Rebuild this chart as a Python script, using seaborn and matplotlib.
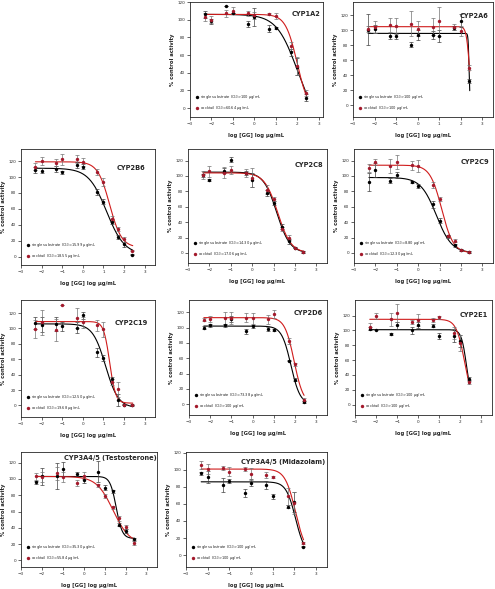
import numpy as np
import pandas as pd
import matplotlib.pyplot as plt
import seaborn as sns

N = np.nan
# log concentration of GG (log ug/mL)
X = [-2.3, -2, -1.3, -1, -0.3, 0, 0.7, 1, 1.4, 1.7, 2, 2.4]

# ---- data (single substrate / cocktail, mean and SD) ----
cyp1a2_single = [106, 98, 115, 108, 95, 103, 90, 91, N, 63, 47, 12]
cyp1a2_single_sd = [4, 3, 0, 0, 3, 10, 4, 1, N, 4, 10, 4]
cyp1a2_cocktail = [103, 100, 107, 110, 107, 105, 106, 104, N, 70, 48, 17]
cyp1a2_cocktail_sd = [5, 4, 4, 4, 3, 4, 1, 3, N, 5, 10, 3]

cyp2a6_single = [101, 102, 92, 93, 81, 94, 94, 93, N, 103, 113, 32]
cyp2a6_single_sd = [21, 5, 4, 4, 3, 7, 5, 8, N, 3, 9, 3]
cyp2a6_cocktail = [102, 104, 107, 106, 109, 102, 105, 112, N, 104, 99, 50]
cyp2a6_cocktail_sd = [4, 8, 9, 11, 17, 10, 11, 19, N, 4, 7, 3]

cyp2b6_single = [109, 108, 110, 106, 115, 113, 81, 69, 44, 25, 16, 3]
cyp2b6_single_sd = [4, 3, 4, 2, 4, 3, 4, 3, 3, 2, 3, 1]
cyp2b6_cocktail = [113, 120, 118, 122, 122, 119, 106, 94, 48, 35, 22, 8]
cyp2b6_cocktail_sd = [4, 5, 4, 7, 5, 5, 4, 5, 3, 3, 3, 1]

cyp2c8_single = [101, 95, 107, 121, 104, 95, 78, 65, 34, 15, 7, 1]
cyp2c8_single_sd = [2, 1, 3, 3, 3, 9, 4, 3, 3, 3, 1, 1]
cyp2c8_cocktail = [101, 106, 104, 108, 104, 98, 82, 70, 31, 20, 7, 1]
cyp2c8_cocktail_sd = [5, 7, 7, 5, 5, 12, 6, 3, 3, 3, 1, 1]

cyp2c9_single = [92, 108, 94, 101, 92, 87, 63, 42, 22, 10, 4, 1]
cyp2c9_single_sd = [12, 9, 3, 4, 1, 2, 4, 3, 2, 2, 1, 1]
cyp2c9_cocktail = [110, 118, 113, 118, 114, 113, 88, 70, 22, 16, 4, 1]
cyp2c9_cocktail_sd = [5, 4, 9, 9, 6, 8, 4, 3, 2, 2, 1, 1]

cyp2c19_single = [107, 105, 106, 103, 101, 117, 69, 62, 34, 7, 1, 0]
cyp2c19_single_sd = [8, 10, 9, 6, 7, 5, 6, 4, 3, 8, 1, 1]
cyp2c19_cocktail = [99, 108, 98, 130, 114, 108, 104, 99, 30, 21, 1, 1]
cyp2c19_cocktail_sd = [12, 16, 14, 0, 13, 7, 7, 10, 4, 10, 1, 1]

cyp2d6_single = [100, 103, 103, 111, 95, 102, 98, 97, N, 57, 32, 3]
cyp2d6_single_sd = [2, 2, 2, 4, 3, 2, 3, 1, N, 1, 2, 1]
cyp2d6_cocktail = [110, 111, 113, 113, 113, 112, 111, 118, N, 83, 52, 6]
cyp2d6_cocktail_sd = [2, 4, 8, 8, 6, 7, 6, 5, N, 4, 2, 2]

cyp2e1_single = [102, 101, 95, 107, 100, 107, 106, 92, N, 93, 86, 35]
cyp2e1_single_sd = [2, 1, 1, 5, 5, 4, 2, 4, N, 9, 8, 2]
cyp2e1_cocktail = [105, 120, 115, 123, 111, 114, 114, 118, N, 96, 83, 30]
cyp2e1_cocktail_sd = [5, 4, 9, 12, 3, 8, 3, 2, N, 8, 11, 2]

cyp3a4t_single = [96, 103, 104, 112, 106, 99, 109, 89, 85, 44, 36, 26]
cyp3a4t_single_sd = [2, 10, 16, 9, 3, 4, 13, 3, 2, 2, 2, 2]
cyp3a4t_cocktail = [103, 102, 107, 102, 95, 104, 92, 79, 65, 52, 41, 22]
cyp3a4t_cocktail_sd = [4, 6, 8, 6, 4, 4, 2, 3, 2, 3, 3, 3]

cyp3a4m_single = [96, 92, 82, 87, 73, 85, 82, 69, N, 57, 62, 10]
cyp3a4m_single_sd = [2, 7, 8, 2, 5, 4, 5, 3, N, 2, 12, 1]
cyp3a4m_cocktail = [106, 101, 102, 98, 101, 95, 94, 92, N, 69, 61, 14]
cyp3a4m_cocktail_sd = [5, 6, 2, 5, 2, 7, 4, 1, N, 10, 13, 1]

# fitted 4PL curves: (top, bottom, logIC50, hill)
fits_single = [(106, -20, 2.0, 0.9), (96, 0, 2.39, 20), (111, 3, 1.15, 1.0),
               (105, 0, 1.15, 1.4), (98, 0, 0.85, 1.2), (106, -3, 1.1, 1.4),
               (102, 0, 1.8, 2.0), (101, 0, 2.3, 3.5), (103, 27, 1.55, 3.0),
               (86, 0, 2.05, 2.0)]
fits_cocktail = [(106, -5, 2.0, 1.6), (105, 0, 2.4, 6), (119, 12, 1.3, 1.5),
                 (104, 0, 1.2, 1.4), (114, 0, 1.1, 1.6), (109, 3, 1.3, 3.0),
                 (113, 0, 1.95, 2.0), (115, 0, 2.2, 2.2), (103, 20, 1.4, 1.1),
                 (101, 0, 2.05, 1.8)]

titles = ["CYP1A2", "CYP2A6", "CYP2B6", "CYP2C8", "CYP2C9", "CYP2C19",
          "CYP2D6", "CYP2E1", "CYP3A4/5 (Testosterone)", "CYP3A4/5 (Midazolam)"]
ic50_single = [">100", ">100", "=15.99", "=14.30", "=8.80", "=12.50",
               "=73.38", ">100", "=35.30", ">100"]
ic50_cocktail = ["=60.64", ">100", "=18.55", "=17.06", "=12.30", "=19.68",
                 ">100", ">100", "=55.84", ">100"]

singles = [cyp1a2_single, cyp2a6_single, cyp2b6_single, cyp2c8_single, cyp2c9_single,
           cyp2c19_single, cyp2d6_single, cyp2e1_single, cyp3a4t_single, cyp3a4m_single]
singles_sd = [cyp1a2_single_sd, cyp2a6_single_sd, cyp2b6_single_sd, cyp2c8_single_sd,
              cyp2c9_single_sd, cyp2c19_single_sd, cyp2d6_single_sd, cyp2e1_single_sd,
              cyp3a4t_single_sd, cyp3a4m_single_sd]
cocktails = [cyp1a2_cocktail, cyp2a6_cocktail, cyp2b6_cocktail, cyp2c8_cocktail,
             cyp2c9_cocktail, cyp2c19_cocktail, cyp2d6_cocktail, cyp2e1_cocktail,
             cyp3a4t_cocktail, cyp3a4m_cocktail]
cocktails_sd = [cyp1a2_cocktail_sd, cyp2a6_cocktail_sd, cyp2b6_cocktail_sd,
                cyp2c8_cocktail_sd, cyp2c9_cocktail_sd, cyp2c19_cocktail_sd,
                cyp2d6_cocktail_sd, cyp2e1_cocktail_sd, cyp3a4t_cocktail_sd,
                cyp3a4m_cocktail_sd]

# panel boxes in pixels: left, top, right, bottom
boxes = [(190, 2, 323, 117), (353, 2, 493, 117),
         (21, 149, 155, 265), (188, 149, 327, 263), (354, 149, 493, 263),
         (21, 300, 155, 417), (189, 300, 327, 415), (355, 300, 492, 415),
         (21, 452, 157, 567), (186, 452, 327, 567)]
ylims = [(-10, 120), (-16, 138), (-10, 135), (-13, 135), (-13, 135),
         (-15, 137), (-14, 136), (-14, 141), (-8, 133), (-14, 121)]
xlims = [(-3, 3.2)] + [(-3, 3.5)] * 9
title_y = [0.90, 0.88, 0.84, 0.86, 0.89, 0.80, 0.89, 0.87, 0.95, 0.91]
title_x = [0.98, 0.97, 0.93, 0.97, 0.97, 0.95, 0.97, 0.97, 1.0, 0.99]

W, H = 495, 589
sns.set_style("ticks")
plt.rcParams['font.family'] = ['DejaVu Sans']
fig = plt.figure(figsize=(W / 100, H / 100), dpi=100)

RED_PT = "#a3192b"
RED_LN = "#d01c1c"


def hill(x, top, bottom, x50, h):
    return bottom + (top - bottom) / (1 + 10 ** ((x - x50) * h))


xc = np.linspace(-2.3, 2.42, 300)
for i in range(10):
    l, t, r, b = boxes[i]
    ax = fig.add_axes([l / W, 1 - b / H, (r - l) / W, (b - t) / H])
    df = pd.DataFrame({"x": X, "single": singles[i], "ssd": singles_sd[i],
                       "cocktail": cocktails[i], "csd": cocktails_sd[i]})

    sns.lineplot(x=xc, y=hill(xc, *fits_single[i]), color="black", lw=0.8, ax=ax)
    sns.lineplot(x=xc, y=hill(xc, *fits_cocktail[i]), color=RED_LN, lw=0.8, ax=ax)
    ax.errorbar(df["x"], df["single"], yerr=df["ssd"], fmt="none", ecolor="0.25",
                elinewidth=0.5, capsize=1.2, capthick=0.5)
    ax.errorbar(df["x"], df["cocktail"], yerr=df["csd"], fmt="none", ecolor="0.45",
                elinewidth=0.5, capsize=1.2, capthick=0.5)
    sns.scatterplot(data=df, x="x", y="single", color="black", s=6, linewidth=0,
                    ax=ax, label=f"single substrate IC$_{{50}}${ic50_single[i]} µg/mL",
                    zorder=5)
    sns.scatterplot(data=df, x="x", y="cocktail", color=RED_PT, s=6, linewidth=0,
                    ax=ax, label=f"cocktail IC$_{{50}}${ic50_cocktail[i]} µg/mL",
                    zorder=5)

    ax.set_xlim(*xlims[i])
    ax.set_ylim(*ylims[i])
    ax.set_xticks(range(-3, 4))
    ax.set_yticks(range(0, 121, 20))
    ax.tick_params(labelsize=3.0, length=2, width=0.5, pad=1.5)
    for s in ax.spines.values():
        s.set_visible(True)
        s.set_linewidth(0.6)
    ax.set_xlabel("log [GG] log µg/mL", fontsize=3.8, fontweight="bold")
    ax.set_ylabel("% control activity", fontsize=3.8, fontweight="bold")
    ax.xaxis.set_label_coords(0.5, -16 / (b - t))
    ax.yaxis.set_label_coords(-15 / (r - l), 0.5)
    ax.text(title_x[i], title_y[i], titles[i], transform=ax.transAxes, ha="right",
            va="center", fontsize=4.8, fontweight="bold")
    ax.legend(loc="lower left", fontsize=2.6, frameon=False, handletextpad=0.3,
              borderaxespad=1.0, labelspacing=0.7, markerscale=1.0, handlelength=1)

fig.savefig("out.png", dpi=100)
